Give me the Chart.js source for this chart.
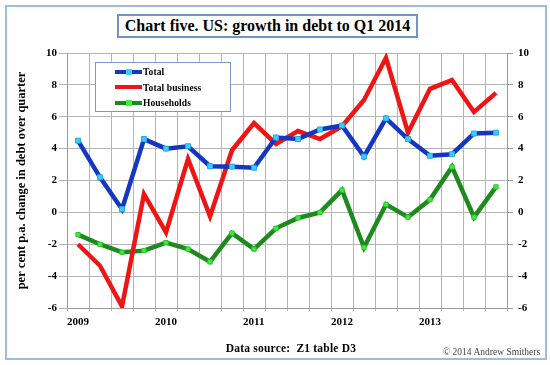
<!DOCTYPE html>
<html>
<head>
<meta charset="utf-8">
<script src="https://cdn.jsdelivr.net/npm/chart.js@4/dist/chart.umd.min.js"></script>
<style>
  body { margin: 0; background: #fff; }
  #wrap { position: relative; width: 550px; height: 365px; font-family: "Liberation Serif", "DejaVu Serif", serif; }
  #chart { position: absolute; left: 0; top: 0; }
  #frame { position: absolute; left: 5px; top: 5px; width: 538px; height: 351px; border: 2px solid #9dbce4; pointer-events: none; }
  #title { position: absolute; left: 117px; top: 14px; width: 297px; height: 20px; border: 2px solid #7094c8;
           font-weight: bold; font-size: 16px; text-align: center; line-height: 20px; background: #fff; }
  #legend { position: absolute; left: 95px; top: 62px; width: 134px; height: 48px; border: 1px solid #7b98c8; background: #fff; }
  .item { position: absolute; left: 19px; height: 12px; font-size: 9.5px; font-weight: bold; letter-spacing: 0.1px; line-height: 12px; white-space: nowrap; }
  .sample { display: inline-block; position: relative; width: 27px; height: 4px; vertical-align: middle; margin-right: 1px; top: -1px; }
  .mark { position: absolute; left: 11px; top: -1px; width: 6px; height: 6px; }
  #source { position: absolute; left: 0; width: 582px; top: 342px; text-align: center; font-size: 11.5px; font-weight: bold; letter-spacing: 0.2px; }
  #copy { position: absolute; left: 443px; top: 347px; font-size: 9.5px; color: #444; }
</style>
</head>
<body>
<div id="wrap">
  <canvas id="chart" width="550" height="365"></canvas>
  <div id="frame"></div>
  <div id="title">Chart five. US: growth in debt to Q1 2014</div>
  <div id="legend"></div>
  <div id="source">Data source:&nbsp; Z1 table D3</div>
  <div id="copy">© 2014 Andrew Smithers</div>
</div>
<script>
// quarters 2009 Q1 .. 2013 Q4
let quarters = ["2009 Q1", "2009 Q2", "2009 Q3", "2009 Q4",
                "2010 Q1", "2010 Q2", "2010 Q3", "2010 Q4",
                "2011 Q1", "2011 Q2", "2011 Q3", "2011 Q4",
                "2012 Q1", "2012 Q2", "2012 Q3", "2012 Q4",
                "2013 Q1", "2013 Q2", "2013 Q3", "2013 Q4"];
let yearLabels = ["2009", "2010", "2011", "2012", "2013"];

let total = [4.5, 2.2, 0.2, 4.6, 4.0, 4.15, 2.9, 2.87, 2.8, 4.7,
             4.6, 5.2, 5.45, 3.5, 5.9, 4.6, 3.55, 3.65, 4.95, 5.0];
let totalBusiness = [-2.0, -3.35, -5.9, 1.15, -1.25, 3.35, -0.25, 3.9, 5.6, 4.3,
                     5.1, 4.6, 5.4, 7.05, 9.7, 5.0, 7.75, 8.3, 6.3, 7.5];
let households = [-1.4, -2.0, -2.5, -2.4, -1.9, -2.3, -3.1, -1.3, -2.3, -1.0,
                  -0.35, 0.0, 1.4, -2.2, 0.5, -0.3, 0.8, 2.85, -0.3, 1.6];

let yTicks = [-6, -4, -2, 0, 2, 4, 6, 8, 10];

const tickFont = { family: "Liberation Serif", size: 11, weight: "bold" };

let datasets = [
    { label: "Total", data: total, borderColor: "#1536c0", borderWidth: 4.5,
      pointStyle: "rect", pointRadius: 3.5, pointBackgroundColor: "#38d0ff",
      pointBorderColor: "#28a8e8", pointBorderWidth: 1, markColor: "#38d0ff" },
    { label: "Total business", data: totalBusiness, borderColor: "#f01414", borderWidth: 4.5,
      pointRadius: 0 },
    { label: "Households", data: households, borderColor: "#1e8a1e", borderWidth: 4.5,
      pointStyle: "rect", pointRadius: 3, pointBackgroundColor: "#3cf03c",
      pointBorderColor: "#2cc82c", pointBorderWidth: 1, markColor: "#3cf03c" }
];

// LEGEND (html)
let legend = document.getElementById("legend");
datasets.forEach((d, i) => {
    let row = document.createElement("div");
    row.className = "item";
    row.style.top = (3 + i * 15.5) + "px";
    let s = `<span class="sample" style="background:${d.borderColor}">`;
    if (d.markColor) s += `<span class="mark" style="background:${d.markColor}"></span>`;
    s += `</span>${d.label}`;
    row.innerHTML = s;
    legend.appendChild(row);
});

function yearTick(value, index) {
    let q = quarters[index];
    if (q.endsWith("Q1")) {
        let y = q.slice(0, 4);
        return yearLabels.includes(y) ? y : "";
    }
    return "";
}

new Chart(document.getElementById("chart"), {
    type: "line",
    data: { labels: quarters, datasets: datasets },
    options: {
        responsive: false,
        animation: false,
        devicePixelRatio: 1,
        layout: { padding: { top: 53, right: 0, bottom: 0, left: 0 } },
        plugins: { legend: { display: false }, tooltip: { enabled: false } },
        elements: { line: { tension: 0 } },
        scales: {
            x: {
                offset: true,
                grid: { offset: true, color: "#b4b4b4", lineWidth: 1, tickLength: 3 },
                border: { color: "#999" },
                ticks: { autoSkip: false, maxRotation: 0, align: "start", labelOffset: -11,
                         padding: 5, color: "#000", font: tickFont, callback: yearTick },
                afterFit: s => { s.height = 57; }
            },
            y: {
                position: "left", min: -6, max: 10,
                afterBuildTicks: s => { s.ticks = yTicks.map(v => ({ value: v })); },
                grid: { color: "#b4b4b4", tickLength: 8 },
                border: { color: "#999" },
                ticks: { color: "#000", font: tickFont, padding: 2 },
                title: { display: true, text: "per cent p.a. change in debt over quarter",
                         color: "#000", font: { family: "Liberation Serif", size: 12.5, weight: "bold" },
                         padding: { top: 14, bottom: 0 } },
                afterFit: s => { s.width = 67; }
            },
            y2: {
                position: "right", min: -6, max: 10,
                afterBuildTicks: s => { s.ticks = yTicks.map(v => ({ value: v })); },
                grid: { drawOnChartArea: false, color: "#999", tickLength: 6 },
                border: { color: "#999" },
                ticks: { color: "#000", font: tickFont, padding: 5 },
                afterFit: s => { s.width = 43; }
            }
        }
    }
});
</script>
</body>
</html>
